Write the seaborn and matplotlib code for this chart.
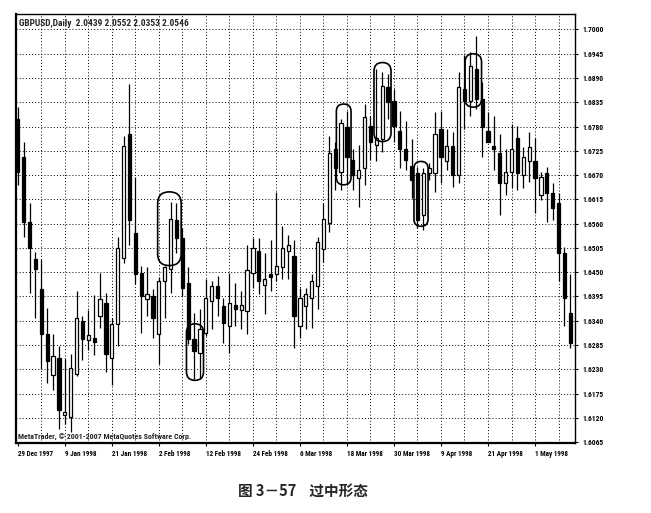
import numpy as np
import pandas as pd
import matplotlib
matplotlib.use("Agg")
import matplotlib.pyplot as plt
from matplotlib.patches import FancyBboxPatch
from matplotlib import font_manager
import seaborn as sns

# ---------------- data ----------------
open_ = [1.6797, 1.6710, 1.6563, 1.6479, 1.6413, 1.6310, 1.6218, 1.6255, 1.6127, 1.6122,
         1.6220, 1.6339, 1.6296, 1.6300, 1.6351, 1.6381, 1.6255, 1.6333, 1.6483, 1.6762,
         1.6538, 1.6449, 1.6390, 1.6397, 1.6310, 1.6431, 1.6458, 1.6568, 1.6527, 1.6426,
         1.6298, 1.6266, 1.6312, 1.6385, 1.6419, 1.6374, 1.6328, 1.6376, 1.6365, 1.6362,
         1.6449, 1.6499, 1.6422, 1.6445, 1.6447, 1.6461, 1.6499, 1.6486, 1.6328, 1.6374,
         1.6392, 1.6419, 1.6502, 1.6561, 1.6728, 1.6678, 1.6778, 1.6705, 1.6664, 1.6687,
         1.6781, 1.6739, 1.6751, 1.6870, 1.6838, 1.6769, 1.6728, 1.6691, 1.6675, 1.6579,
         1.6675, 1.6675, 1.6774, 1.6701, 1.6735, 1.6671, 1.6865, 1.6838, 1.6911, 1.6842,
         1.6771, 1.6737, 1.6721, 1.6653, 1.6678, 1.6755, 1.6671, 1.6701, 1.6701, 1.6625,
         1.6675, 1.6630, 1.6607, 1.6493, 1.6358]
high = [1.6824, 1.6746, 1.6607, 1.6495, 1.6481, 1.6369, 1.6310, 1.6282, 1.6255, 1.6264,
        1.6408, 1.6351, 1.6365, 1.6399, 1.6449, 1.6403, 1.6346, 1.6529, 1.6758, 1.6877,
        1.6666, 1.6465, 1.6461, 1.6413, 1.6440, 1.6465, 1.6609, 1.6607, 1.6550, 1.6461,
        1.6358, 1.6367, 1.6435, 1.6429, 1.6442, 1.6392, 1.6449, 1.6426, 1.6408, 1.6511,
        1.6527, 1.6527, 1.6493, 1.6522, 1.6632, 1.6554, 1.6534, 1.6522, 1.6415, 1.6415,
        1.6447, 1.6529, 1.6607, 1.6758, 1.6744, 1.6797, 1.6815, 1.6728, 1.6739, 1.6831,
        1.6803, 1.6911, 1.6904, 1.6899, 1.6865, 1.6815, 1.6792, 1.6751, 1.6689, 1.6687,
        1.6698, 1.6813, 1.6815, 1.6774, 1.6767, 1.6904, 1.6941, 1.6950, 1.6986, 1.6881,
        1.6813, 1.6803, 1.6762, 1.6728, 1.6785, 1.6781, 1.6733, 1.6767, 1.6755, 1.6678,
        1.6689, 1.6653, 1.6630, 1.6506, 1.6447]
low = [1.6648, 1.6529, 1.6403, 1.6346, 1.6230, 1.6198, 1.6184, 1.6095, 1.6106, 1.6088,
       1.6214, 1.6250, 1.6273, 1.6262, 1.6323, 1.6225, 1.6195, 1.6282, 1.6470, 1.6511,
       1.6424, 1.6312, 1.6351, 1.6300, 1.6241, 1.6346, 1.6403, 1.6493, 1.6397, 1.6287,
       1.6209, 1.6207, 1.6305, 1.6321, 1.6351, 1.6289, 1.6266, 1.6328, 1.6321, 1.6310,
       1.6415, 1.6401, 1.6355, 1.6408, 1.6431, 1.6435, 1.6435, 1.6278, 1.6300, 1.6321,
       1.6323, 1.6367, 1.6472, 1.6541, 1.6637, 1.6637, 1.6648, 1.6637, 1.6598, 1.6648,
       1.6705, 1.6701, 1.6723, 1.6797, 1.6746, 1.6687, 1.6682, 1.6618, 1.6550, 1.6545,
       1.6659, 1.6632, 1.6653, 1.6682, 1.6643, 1.6653, 1.6774, 1.6803, 1.6819, 1.6712,
       1.6744, 1.6682, 1.6579, 1.6625, 1.6641, 1.6637, 1.6641, 1.6655, 1.6584, 1.6614,
       1.6563, 1.6568, 1.6431, 1.6328, 1.6278]
close = [1.6678, 1.6563, 1.6504, 1.6458, 1.6310, 1.6248, 1.6259, 1.6138, 1.6134, 1.6232,
         1.6346, 1.6298, 1.6307, 1.6291, 1.6390, 1.6264, 1.6333, 1.6504, 1.6735, 1.6568,
         1.6447, 1.6397, 1.6401, 1.6346, 1.6431, 1.6461, 1.6570, 1.6527, 1.6415, 1.6298,
         1.6271, 1.6321, 1.6392, 1.6419, 1.6392, 1.6335, 1.6381, 1.6367, 1.6376, 1.6454,
         1.6504, 1.6431, 1.6435, 1.6440, 1.6465, 1.6504, 1.6511, 1.6351, 1.6392, 1.6401,
         1.6429, 1.6518, 1.6570, 1.6721, 1.6687, 1.6787, 1.6712, 1.6671, 1.6682, 1.6801,
         1.6744, 1.6755, 1.6872, 1.6835, 1.6781, 1.6728, 1.6705, 1.6659, 1.6568, 1.6675,
         1.6687, 1.6762, 1.6712, 1.6737, 1.6671, 1.6870, 1.6838, 1.6918, 1.6842, 1.6778,
         1.6746, 1.6728, 1.6653, 1.6678, 1.6728, 1.6675, 1.6710, 1.6733, 1.6664, 1.6666,
         1.6630, 1.6595, 1.6493, 1.6392, 1.6289]

date_labels = ["29 Dec 1997", "9 Jan 1998", "21 Jan 1998", "2 Feb 1998", "12 Feb 1998",
               "24 Feb 1998", "6 Mar 1998", "18 Mar 1998", "30 Mar 1998", "9 Apr 1998",
               "21 Apr 1998", "1 May 1998"]
price_ticks = [1.7000, 1.6945, 1.6890, 1.6835, 1.6780, 1.6725, 1.6670, 1.6615, 1.6560,
               1.6505, 1.6450, 1.6395, 1.6340, 1.6285, 1.6230, 1.6175, 1.6120, 1.6065]

# highlighted patterns: (first bar, last bar, low price, high price)
box_bars_start = [23.8, 28.7, 54.2, 60.6, 67.4, 76.1]
box_bars_end = [27.8, 31.6, 56.7, 63.5, 69.8, 78.9]
box_low = [1.6465, 1.6205, 1.6648, 1.6746, 1.6554, 1.6824]
box_high = [1.6632, 1.6333, 1.6831, 1.6925, 1.6701, 1.6945]

header_text = "GBPUSD,Daily  2.0439 2.0552 2.0353 2.0546"
footer_text = "MetaTrader, © 2001-2007 MetaQuotes Software Corp."
caption = "图 3－57    过中形态"

# ---------------- build table ----------------
dates = pd.bdate_range("1997-12-29", periods=96)
dates = dates[dates != pd.Timestamp("1998-01-01")]
df = pd.DataFrame({"date": dates, "open": open_, "high": high, "low": low, "close": close})
df["idx"] = np.arange(len(df))
df["label"] = [f"{d.day} {d.strftime('%b %Y')}" for d in df["date"]]

sns.set_style("white")
avail = {f.name for f in font_manager.fontManager.ttflist}
narrow = [n for n in ["Liberation Sans Narrow", "Roboto Condensed", "Open Sans Condensed",
                      "Noto Sans Condensed", "Arial Narrow"] if n in avail]
if narrow:
    small_family = [narrow[0]]
    base = 5.4
else:
    small_family = ["Liberation Sans"]
    base = 4.6
plt.rcParams["font.family"] = ["DejaVu Sans", "Noto Sans CJK SC"]

fig = plt.figure(figsize=(6.51, 5.13), dpi=100)
ax = fig.add_axes([16 / 651, 1 - 443 / 513, (575 - 16) / 651, (443 - 14) / 513])

ax.set_xlim(-0.3, 94.8)
ax.set_ylim(1.6063, 1.7035)

# grid
for p in price_ticks:
    ax.axhline(p, color="black", lw=0.7, ls=(0, (1, 2.2)), zorder=0)
for i in range(4, len(df), 4):
    ax.axvline(i, color="black", lw=0.7, ls=(0, (1, 2.2)), zorder=0)

# candles
up = df["close"] >= df["open"]
ax.vlines(df["idx"], df["low"], df["high"], color="black", lw=0.9, zorder=2)
body_bottom = np.minimum(df["open"], df["close"])
body_h = np.maximum(np.abs(df["close"] - df["open"]), 0.00012)
ax.bar(df["idx"], body_h, bottom=body_bottom, width=0.55,
       color=np.where(up, "white", "black"), edgecolor="black", linewidth=0.9, zorder=3)

# highlight boxes
asp = (ax.get_ylim()[1] - ax.get_ylim()[0]) / 429 / ((ax.get_xlim()[1] - ax.get_xlim()[0]) / 559)
for x0, x1, y0, y1 in zip(box_bars_start, box_bars_end, box_low, box_high):
    patch = FancyBboxPatch((x0, y0), x1 - x0, y1 - y0,
                           boxstyle=f"round,pad=0,rounding_size={(x1 - x0) / 2:.3f}",
                           mutation_aspect=asp, fill=False, edgecolor="black", lw=1.2, zorder=4)
    ax.add_patch(patch)

# axes styling
for s in ax.spines.values():
    s.set_color("black")
    s.set_linewidth(1.0)
ax.spines["left"].set_linewidth(1.6)
ax.spines["bottom"].set_linewidth(1.6)

ax.yaxis.tick_right()
ax.set_yticks(price_ticks)
ax.set_yticklabels([f"{p:.4f}" for p in price_ticks], fontweight="bold",
                   family=small_family, fontsize=base)
tick_pos = [int(df.index[df["label"] == lab][0]) for lab in date_labels]
ax.set_xticks(tick_pos)
ax.set_xticklabels(date_labels, fontweight="bold", ha="left", family=small_family,
                   fontsize=base * 0.95)
ax.tick_params(axis="y", length=2.5, width=0.8, pad=3, colors="black", right=True)
ax.tick_params(axis="x", length=2.5, width=0.8, pad=2.5, colors="black", bottom=True)
ax.set_xlabel("")
ax.set_ylabel("")

ax.text(0.006, 0.988, header_text, transform=ax.transAxes, ha="left", va="top",
        fontweight="bold", family=small_family, fontsize=base * 1.25)
ax.text(0.004, 0.008, footer_text, transform=ax.transAxes, ha="left", va="bottom",
        fontweight="bold", family=small_family, fontsize=base * 1.05)

fig.text(303 / 651, 1 - 491 / 513, caption, ha="center", va="center", fontsize=10.5,
         fontweight="bold", family=["Noto Sans CJK SC", "DejaVu Sans"])

fig.savefig("out.png", dpi=100, facecolor="white")
